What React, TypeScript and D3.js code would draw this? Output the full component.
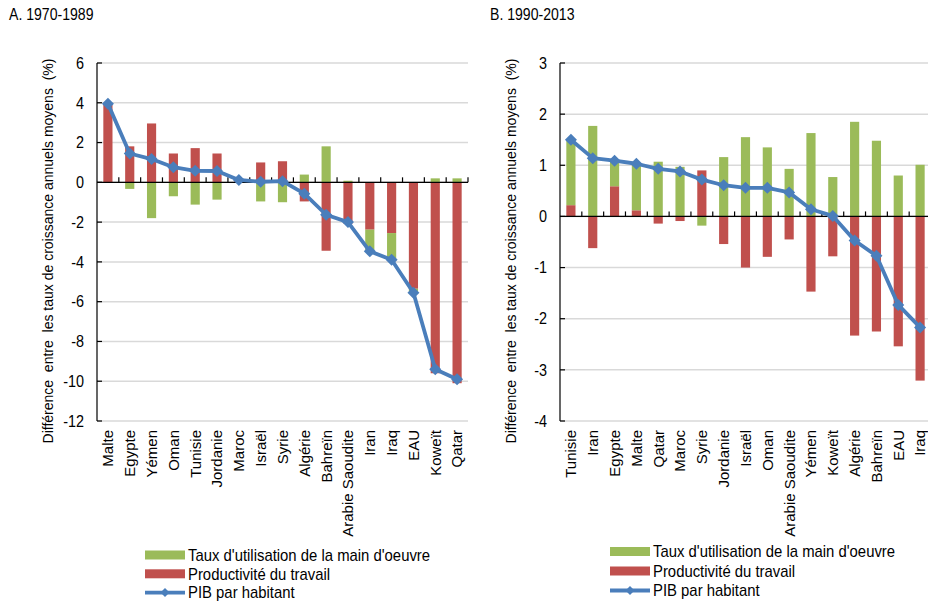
import React from "react";
import * as d3 from "d3";

const catsA = ["Malte","Egypte","Yémen","Oman","Tunisie","Jordanie","Maroc","Israël","Syrie","Algérie","Bahreïn","Arabie Saoudite","Iran","Iraq","EAU","Koweït","Qatar"];
const laborA = [0, -0.33, -1.8, -0.7, -1.12, -0.87, 0.03, -0.96, -1.0, 0.39, 1.81, 0.08, -1.1, -1.33, -0.2, 0.2, 0.2];
const prodA = [3.95, 1.81, 2.96, 1.45, 1.72, 1.45, 0.1, 1.0, 1.06, -0.96, -3.44, -2.08, -2.38, -2.55, -5.35, -9.6, -10.1];
const gdpA = [3.95, 1.45, 1.17, 0.76, 0.58, 0.57, 0.12, 0.03, 0.06, -0.57, -1.63, -2.0, -3.47, -3.89, -5.55, -9.4, -9.9];

const catsB = ["Tunisie","Iran","Egypte","Malte","Qatar","Maroc","Syrie","Jordanie","Israël","Oman","Arabie Saoudite","Yémen","Koweït","Algérie","Bahreïn","EAU","Iraq"];
const laborB = [1.28, 1.77, 0.5, 0.92, 1.07, 0.97, -0.18, 1.16, 1.55, 1.35, 0.93, 1.63, 0.77, 1.85, 1.48, 0.8, 1.01];
const prodB = [0.22, -0.62, 0.59, 0.12, -0.14, -0.09, 0.9, -0.54, -1.0, -0.79, -0.45, -1.47, -0.78, -2.33, -2.25, -2.54, -3.21];
const gdpB = [1.5, 1.14, 1.09, 1.03, 0.93, 0.88, 0.72, 0.61, 0.56, 0.56, 0.47, 0.14, 0.01, -0.47, -0.77, -1.73, -2.17];

const ticksA = [6, 4, 2, 0, -2, -4, -6, -8, -10, -12];
const ticksB = [3, 2, 1, 0, -1, -2, -3, -4];

const legendLabels = ["Taux d'utilisation de la main d'oeuvre", "Productivité du travail", "PIB par habitant"];
const yTitle = "Différence  entre  les taux de croissance annuels moyens  (%)";

const GREEN = "#9bbb59";
const RED = "#c0504d";
const BLUE = "#4a7ebb";
const FONT = "'Liberation Sans', Arial, sans-serif";

function diamond(cx: number, cy: number, r: number) {
  return `M${cx},${cy - r}L${cx + r},${cy}L${cx},${cy + r}L${cx - r},${cy}Z`;
}

function Panel(props: {
  cats: string[]; labor: number[]; prod: number[]; gdp: number[]; ticks: number[];
  x0: number; x1: number; domain: [number, number]; title: string; titleX: number; yLabelX: number;
}) {
  const { cats, labor, prod, gdp, ticks, x0, x1, domain, title, titleX, yLabelX } = props;
  const top = 63, bottom = 421;
  const x = d3.scaleBand<string>().domain(cats).range([x0, x1]).paddingInner(0.58).paddingOuter(0.29);
  const band = d3.scaleBand<string>().domain(cats).range([x0, x1]);
  const y = d3.scaleLinear().domain(domain).range([bottom, top]);
  const rows = cats.map((c, i) => ({ c, prod: prod[i], labor: labor[i] }));
  const stack = d3.stack<any>().keys(["prod", "labor"]).offset(d3.stackOffsetDiverging)(rows);
  const colors: Record<string, string> = { prod: RED, labor: GREEN };
  const cx = (i: number) => (band(cats[i]) as number) + band.bandwidth() / 2;
  const line = d3.line<number>().x((_, i) => cx(i)).y((v) => y(v));
  const y0 = y(0);
  return (
    <g>
      <text transform={`translate(${titleX},20) scale(0.88,1)`} fontSize={16} fontFamily={FONT} fill="#000">{title}</text>
      <text transform={`translate(${yLabelX},${(top + bottom) / 2 + 9}) rotate(-90)`} textAnchor="middle" fontSize={14} fontFamily={FONT} style={{ whiteSpace: "pre" }} fill="#000">{yTitle}</text>
      {ticks.map((t) => (
        <g key={t}>
          <line x1={x0} x2={x1} y1={y(t)} y2={y(t)} stroke="#d9d9d9" strokeWidth={1.5} />
          <line x1={x0} x2={x0 + 5} y1={y(t)} y2={y(t)} stroke="#000" strokeWidth={1.2} />
          <text transform={`translate(${x0 - 13},${y(t)}) scale(0.9,1)`} dy="0.36em" textAnchor="end" fontSize={16} fontFamily={FONT} fill="#000">{t}</text>
        </g>
      ))}
      {stack.map((s) => (
        <g key={s.key} fill={colors[s.key]}>
          {s.map((d: any, i: number) => {
            const a = y(d[0]), b = y(d[1]);
            return <rect key={i} x={x(cats[i])} width={x.bandwidth()} y={Math.min(a, b)} height={Math.abs(a - b)} />;
          })}
        </g>
      ))}
      <line x1={x0} x2={x0} y1={top} y2={bottom} stroke="#000" strokeWidth={1.2} />
      <line x1={x0} x2={x1} y1={y0} y2={y0} stroke="#000" strokeWidth={1.2} />
      {cats.map((c) => (
        <line key={c} x1={(band(c) as number) + band.bandwidth()} x2={(band(c) as number) + band.bandwidth()} y1={y0} y2={y0 - 5} stroke="#000" strokeWidth={1.2} />
      ))}
      <path d={line(gdp) || ""} fill="none" stroke={BLUE} strokeWidth={3.8} strokeLinejoin="round" />
      {gdp.map((v, i) => (
        <path key={i} d={diamond(cx(i), y(v), 6)} fill={BLUE} />
      ))}
      {cats.map((c, i) => (
        <text key={c} transform={`translate(${cx(i)},${bottom + 9}) rotate(-90)`} textAnchor="end" dy="0.36em" fontSize={15} fontFamily={FONT} fill="#000">{c}</text>
      ))}
    </g>
  );
}

function Legend(props: { x: number; y: number; gap: number }) {
  const { x, y, gap } = props;
  const label = (i: number) => (
    <text transform={`translate(${x + 43},${y + i * gap}) scale(0.93,1)`} dy="0.36em">{legendLabels[i]}</text>
  );
  return (
    <g fontFamily={FONT} fontSize={16} fill="#000">
      <rect x={x} y={y - 4.5} width={40} height={9} fill={GREEN} />
      {label(0)}
      <rect x={x} y={y + gap - 4.5} width={40} height={9} fill={RED} />
      {label(1)}
      <line x1={x} x2={x + 40} y1={y + 2 * gap} y2={y + 2 * gap} stroke={BLUE} strokeWidth={3.8} />
      <path d={diamond(x + 20, y + 2 * gap, 4.5)} fill={BLUE} />
      {label(2)}
    </g>
  );
}

export default function App() {
  return (
    <svg width={928} height={604} style={{ position: "absolute", left: 0, top: 0, background: "#fff" }}>
      <rect width={928} height={604} fill="#fff" />
      <Panel cats={catsA} labor={laborA} prod={prodA} gdp={gdpA} ticks={ticksA} x0={97} x1={468} domain={[-12, 6]} title="A. 1970-1989" titleX={9} yLabelX={53} />
      <Panel cats={catsB} labor={laborB} prod={prodB} gdp={gdpB} ticks={ticksB} x0={560} x1={931} domain={[-4, 3]} title="B. 1990-2013" titleX={490} yLabelX={516} />
      <Legend x={145} y={555} gap={18.8} />
      <Legend x={610} y={551.5} gap={19.5} />
    </svg>
  );
}
